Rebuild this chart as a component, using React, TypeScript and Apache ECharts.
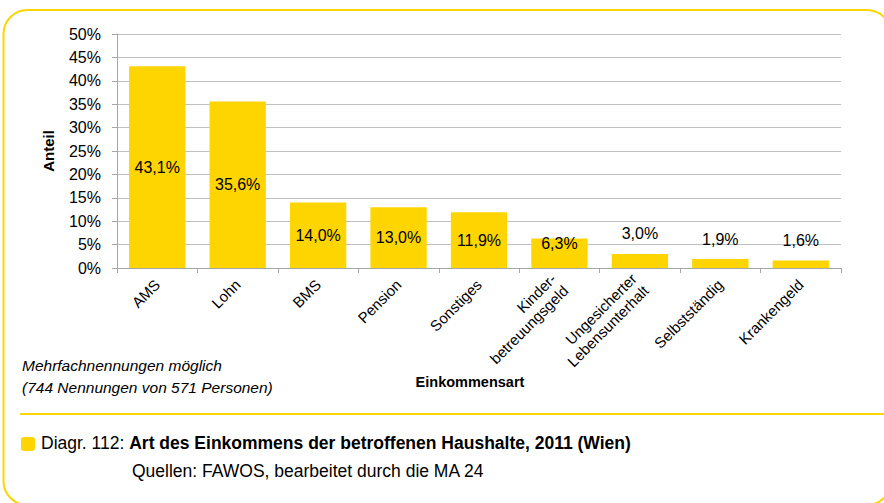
import React, { useEffect, useRef } from "react";
import * as echarts from "echarts";

const categories = [
  "AMS",
  "Lohn",
  "BMS",
  "Pension",
  "Sonstiges",
  "Kinder-\nbetreuungsgeld",
  "Ungesicherter\nLebensunterhalt",
  "Selbstständig",
  "Krankengeld",
];
const values = [43.1, 35.6, 14.0, 13.0, 11.9, 6.3, 3.0, 1.9, 1.6];
const labelOutside = [false, false, false, false, false, false, true, true, true];
const yTicks = { min: 0, max: 50, interval: 5 };

const FONT = "'Liberation Sans', Arial, sans-serif";
const YELLOW = "#FFD500";

export default function App() {
  const ref = useRef<HTMLDivElement>(null);
  useEffect(() => {
    if (!ref.current) return;
    const chart = echarts.init(ref.current, undefined, { renderer: "svg" });
    const fmt = (v: number) => v.toFixed(1).replace(".", ",") + "%";
    chart.setOption({
      animation: false,
      textStyle: { fontFamily: FONT },
      grid: { left: 117, right: 43, top: 34, bottom: 235 },
      xAxis: {
        type: "category",
        data: categories,
        axisLine: { lineStyle: { color: "#A6A6A6" } },
        axisTick: { show: true, length: 5, lineStyle: { color: "#A6A6A6" } },
        axisLabel: {
          rotate: 45,
          interval: 0,
          color: "#000",
          fontSize: 15,
          fontFamily: FONT,
          lineHeight: 17,
          margin: 14,
        },
      },
      yAxis: {
        type: "value",
        min: yTicks.min,
        max: yTicks.max,
        interval: yTicks.interval,
        axisLine: { show: true, lineStyle: { color: "#A6A6A6" } },
        axisTick: { show: true, length: 5, lineStyle: { color: "#A6A6A6" } },
        splitLine: { lineStyle: { color: "#BFBFBF", width: 1 } },
        axisLabel: {
          formatter: "{value}%",
          color: "#000",
          fontSize: 16,
          fontFamily: FONT,
          margin: 16,
        },
        name: "Anteil",
        nameLocation: "middle",
        nameGap: 61,
        nameRotate: 90,
        nameTextStyle: { fontWeight: "bold", fontSize: 15, color: "#000", fontFamily: FONT },
      },
      series: [
        {
          type: "bar",
          barCategoryGap: "30%",
          data: values.map((v, i) => ({
            value: v,
            label: labelOutside[i]
              ? { position: "top", distance: 12 }
              : i === 5
              ? { position: "inside", offset: [0, -10] }
              : { position: "inside" },
          })),
          itemStyle: { color: YELLOW },
          label: {
            show: true,
            color: "#000",
            fontSize: 16,
            fontFamily: FONT,
            formatter: (p: any) => fmt(p.value),
          },
        },
      ],
      graphic: [
        {
          type: "rect",
          shape: { x: 3.5, y: 10, width: 887.5, height: 495, r: 24 },
          style: { fill: "none", stroke: YELLOW, lineWidth: 2 },
          silent: true,
        },
        {
          type: "line",
          shape: { x1: 20, y1: 414, x2: 884, y2: 414 },
          style: { stroke: YELLOW, lineWidth: 2 },
        },
        {
          type: "text",
          x: 470,
          y: 382,
          style: {
            text: "Einkommensart",
            font: `bold 14.5px ${FONT}`,
            fill: "#000",
            align: "center",
            verticalAlign: "middle",
          },
        },
        {
          type: "text",
          left: 22,
          top: 354,
          style: {
            text: "Mehrfachnennungen möglich\n(744 Nennungen von 571 Personen)",
            font: `italic 15.5px ${FONT}`,
            fill: "#000",
            lineHeight: 22,
          },
        },
        {
          type: "rect",
          shape: { x: 21, y: 437, width: 14, height: 14, r: 3 },
          style: { fill: YELLOW },
        },
        {
          type: "text",
          left: 41,
          top: 434,
          style: {
            text: "{n|Diagr. 112: }{b|Art des Einkommens der betroffenen Haushalte, 2011 (Wien)}",
            rich: {
              n: { font: `17.5px ${FONT}`, fill: "#000" },
              b: { font: `bold 17.5px ${FONT}`, fill: "#000" },
            },
          },
        },
        {
          type: "text",
          left: 132,
          top: 462,
          style: {
            text: "Quellen: FAWOS, bearbeitet durch die MA 24",
            font: `17.5px ${FONT}`,
            fill: "#000",
          },
        },
      ],
    });
    return () => chart.dispose();
  }, []);
  return (
    <div
      ref={ref}
      style={{ position: "fixed", left: 0, top: 0, width: 884, height: 503, background: "#fff" }}
    />
  );
}
